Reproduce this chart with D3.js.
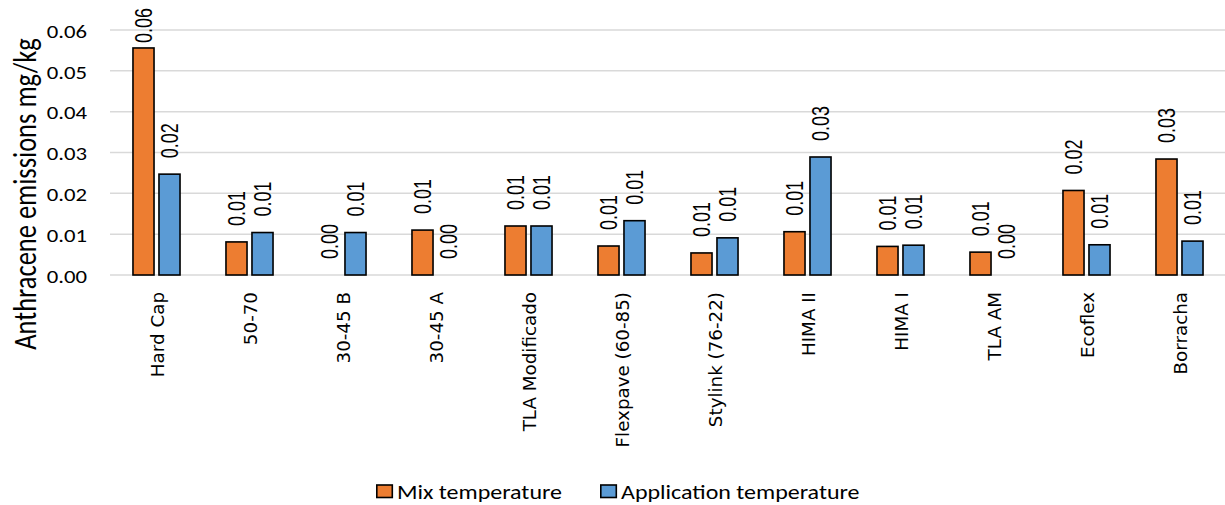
<!DOCTYPE html>
<html>
<head>
<meta charset="utf-8">
<script src="https://cdn.jsdelivr.net/npm/d3@7"></script>
<style>
  html, body { margin: 0; padding: 0; background: #fff; }
  svg { display: block; }
</style>
</head>
<body>
<svg id="chart" width="1225" height="505"></svg>
<script>
const categories = ["Hard Cap", "50-70", "30-45 B", "30-45 A", "TLA Modificado", "Flexpave (60-85)",
  "Stylink (76-22)", "HIMA II", "HIMA I", "TLA AM", "Ecoflex", "Borracha"];
const seriesNames = ["Mix temperature", "Application temperature"];
const mixValues = [0.0556, 0.0081, 0.0000, 0.0110, 0.0120, 0.0071, 0.0054, 0.0106, 0.0070, 0.0056, 0.0207, 0.0284];
const appValues = [0.0247, 0.0104, 0.0104, 0.0000, 0.0120, 0.0133, 0.0091, 0.0289, 0.0073, 0.0000, 0.0074, 0.0083];
const yTicks = [0, 0.01, 0.02, 0.03, 0.04, 0.05, 0.06];
const colors = ["#ED7D31", "#5B9BD5"];
const yTitle = "Anthracene emissions mg/kg";

const svg = d3.select("#chart");
const plot = { left: 110, right: 1226, top: 30, bottom: 275 };

const x0 = d3.scaleBand().domain(categories).range([plot.left, plot.right]).padding(0);
const bw = x0.bandwidth();
const x1 = d3.scaleBand().domain(seriesNames)
  .range([bw * 0.247, bw * 0.753]).paddingInner(0.19).paddingOuter(0);
const y = d3.scaleLinear().domain([0, 0.06]).range([plot.bottom, plot.top]);

// gridlines
svg.append("g").selectAll("line").data(yTicks).join("line")
  .attr("x1", plot.left).attr("x2", plot.right)
  .attr("y1", d => y(d)).attr("y2", d => y(d))
  .attr("stroke", "#d9d9d9").attr("stroke-width", 1.5);

// y tick labels
const sxTick = 1.3;
svg.append("g").selectAll("text").data(yTicks).join("text")
  .attr("transform", d => `translate(87,${y(d) + 1.5}) scale(${sxTick},1)`)
  .attr("text-anchor", "end").attr("dy", "0.36em")
  .style("font-family", "Carlito, Lato, sans-serif").style("font-size", "17.5px").style("fill", "#000")
  .text(d => d3.format(".2f")(d));

// y axis title
svg.append("text")
  .attr("transform", `translate(36,194) scale(1.25,1) rotate(-90)`)
  .attr("text-anchor", "middle")
  .style("font-family", "Carlito, Lato, sans-serif").style("font-size", "26.5px").style("fill", "#000")
  .text(yTitle);

// bars
const data = categories.map((c, i) => ({ cat: c, vals: [mixValues[i], appValues[i]] }));
const groups = svg.append("g").selectAll("g").data(data).join("g")
  .attr("transform", d => `translate(${x0(d.cat)},0)`);

groups.selectAll("rect").data(d => d.vals.map((v, j) => ({ v, s: seriesNames[j], j })))
  .join("rect")
  .filter(d => d.v > 0)
  .attr("x", d => x1(d.s)).attr("width", x1.bandwidth())
  .attr("y", d => y(d.v)).attr("height", d => y(0) - y(d.v))
  .attr("fill", d => colors[d.j]).attr("stroke", "#000").attr("stroke-width", 1.6);

// data labels
const labelGap = 16;
const labels = groups.selectAll("text.lbl").data(d => d.vals.map((v, j) => ({ v, s: seriesNames[j], j })))
  .join("text").attr("class", "lbl")
  .attr("text-anchor", "start").attr("dy", "0.36em")
  .style("font-family", "'Liberation Sans', Arial, sans-serif").style("font-size", "18px").style("fill", "#000")
  .text(d => d3.format(".2f")(d.v));
labels.each(function(d) {
  const len = this.getComputedTextLength();
  let start = y(d.v) - labelGap;
  if (start - len < 8) start = 8 + len;
  const cx = x1(d.s) + x1.bandwidth() / 2;
  d3.select(this).attr("transform", `translate(${cx},${start}) rotate(-90) scale(1,1.3)`);
});

// category labels
svg.append("g").selectAll("text").data(categories).join("text")
  .attr("transform", d => `translate(${x0(d) + bw / 2 + 1},292) rotate(-90)`)
  .attr("text-anchor", "end").attr("dy", "0.36em")
  .style("font-family", "'DejaVu Sans', sans-serif").style("font-size", "18.3px").style("fill", "#000")
  .text(d => d);

// legend
const legendX = [376, 600];
const legend = svg.append("g").selectAll("g").data(seriesNames).join("g")
  .attr("transform", (d, i) => `translate(${legendX[i]},485)`);
legend.append("rect").attr("x", 0.8).attr("y", 0).attr("width", 15.5).attr("height", 12.5)
  .attr("fill", (d, i) => colors[i]).attr("stroke", "#000").attr("stroke-width", 1.6);
legend.append("text")
  .attr("transform", "translate(21,13.5) scale(1.2,1)")
  .style("font-family", "Carlito, Lato, sans-serif").style("font-size", "20px").style("fill", "#000")
  .text(d => d);
</script>
</body>
</html>
